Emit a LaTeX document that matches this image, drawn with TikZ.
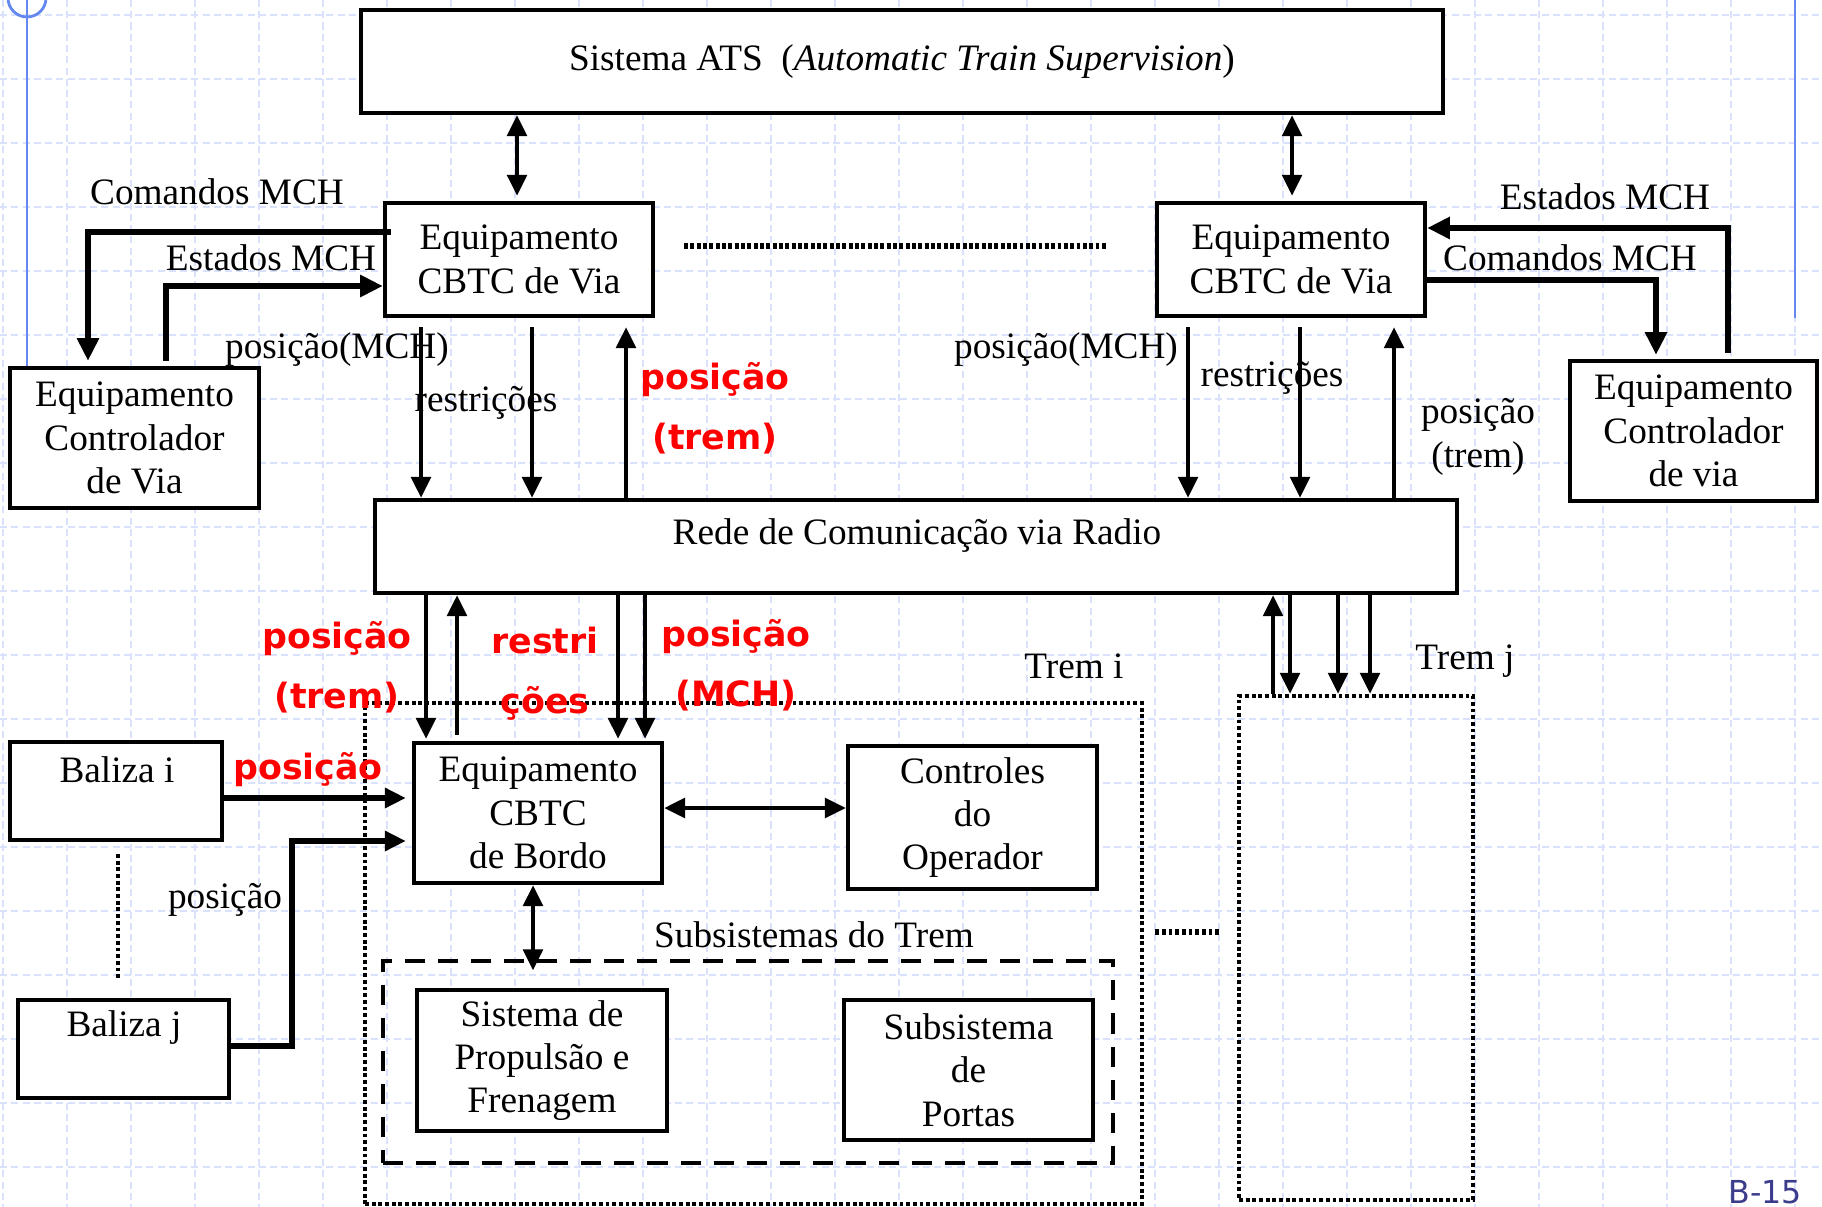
\documentclass[tikz,border=0pt]{standalone}
\usepackage{fontspec}
\setmainfont{Liberation Serif}
\newfontfamily\hotfont{DejaVu Sans}
\newfontfamily\pagefont{DejaVu Sans}
\usetikzlibrary{arrows.meta}
\definecolor{gridblue}{RGB}{218,225,252}
\definecolor{slideblue}{RGB}{100,135,240}
\definecolor{pagenum}{RGB}{60,60,140}
\definecolor{hot}{RGB}{255,0,0}

\begin{document}
\begin{tikzpicture}[x=0.01cm,y=-0.01cm,
  every node/.style={font=\fontsize{10.6}{12.3}\selectfont},
  % a rectangle given by its corners (left, top, right, bottom) in px
  span/.style n args={4}{minimum width={(#3-#1)*0.01cm}, minimum height={(#4-#2)*0.01cm},
    at={({(#1+#3)/2},{(#2+#4)/2})}, anchor=center},
  box/.style={draw, line width=1.2pt, fill=white, inner sep=0pt, align=center},
  dotbox/.style={draw, line width=1.2pt, dash pattern=on 1.1pt off 0.8pt, inner sep=0pt},
  dashbox/.style={draw, line width=1.4pt, dash pattern=on 5.7pt off 3.7pt, inner sep=0pt},
  lbl/.style={inner sep=0pt},
  hotlbl/.style={inner sep=0pt, text=hot, align=center,
    font=\hotfont\bfseries\fontsize{9.9}{17}\selectfont},
  arr/.style={line width=1.3pt, -{Triangle[length=6pt,width=5.5pt]}},
  darr/.style={line width=1.3pt, {Triangle[length=6pt,width=5.5pt]}-{Triangle[length=6pt,width=5.5pt]}},
  mch/.style={line width=1.7pt, -{Triangle[length=6.5pt,width=6pt]}},
  gridline/.style={gridblue, line width=0.5pt, dash pattern=on 2pt off 1.2pt}
]
\useasboundingbox (0,0) rectangle (1822,1207);

% slide background grid
\foreach \gx in {3,67,...,1822} \draw[gridline] (\gx,0) -- (\gx,1207);
\foreach \gy in {15,79,...,1207} \draw[gridline] (0,\gy) -- (1822,\gy);

% slide margin rules
\draw[slideblue, line width=0.8pt] (27,0) -- (27,368);
\draw[slideblue, line width=0.8pt] (27,-2) circle (19);
\draw[slideblue, line width=0.8pt] (1795,0) -- (1795,318);

% wayside equipment
\node[box, span={361}{10}{1443}{113}] (ats)
  {Sistema ATS\ \ (\textit{Automatic Train Supervision})};
\node[box, span={385}{203}{653}{316}] (cbtcL) {Equipamento\\CBTC de Via};
\node[box, span={1157}{203}{1425}{316}] (cbtcR) {Equipamento\\CBTC de Via};
\node[box, span={10}{368}{259}{508}] (ctlL) {Equipamento\\Controlador\\de Via};
\node[box, span={1570}{361}{1817}{501}] (ctlR) {Equipamento\\Controlador\\de via};

% radio network
\node[box, span={375}{500}{1457}{593}] (rede) {};
\node[lbl] (redeT) at (917,536) {Rede de Comunica\c{c}\~ao via Radio};

% trains
\node[dotbox, span={365}{703}{1142}{1204}] (tremI) {};
\node[dotbox, span={1239}{696}{1473}{1200}] (tremJ) {};
\node[dashbox, span={383}{961}{1113}{1163}] (subs) {};
\node[box, span={414}{743}{662}{883}] (bordo) {Equipamento\\CBTC\\de Bordo};
\node[box, span={848}{746}{1097}{889}] (oper) {Controles\\do\\Operador};
\node[box, span={417}{990}{667}{1131}] (prop) {Sistema de\\Propuls\~ao e\\Frenagem};
\node[box, span={844}{1000}{1093}{1140}] (portas) {Subsistema\\de\\Portas};

% balises
\node[box, span={10}{742}{222}{840}] (baliI) {};
\node[lbl] (baliIT) at (117,770) {Baliza i};
\node[box, span={18}{1000}{229}{1098}] (baliJ) {};
\node[lbl] (baliJT) at (124,1028) {Baliza j};

% ATS links
\draw[darr, shorten >=0.05cm] (517,0 |- ats.south) -- (517,0 |- cbtcL.north);
\draw[darr, shorten >=0.05cm] (1292,0 |- ats.south) -- (1292,0 |- cbtcR.north);
\draw[line width=1.7pt, dash pattern=on 1.1pt off 0.7pt]
  ([yshift=0.135cm]cbtcL.east) ++(0.29cm,0) -- ([yshift=0.135cm,xshift=-0.47cm]cbtcR.west);

% point machine commands and states, left
\draw[mch, shorten >=0.05cm] ([yshift=0.275cm,xshift=0.08cm]cbtcL.west) -| (88,0 |- ctlL.north);
\draw[mch, shorten <=0.05cm] (166,0 |- ctlL.north) |- ([yshift=-0.265cm]cbtcL.west);
\node[lbl] (cmdL) at (217,192) {Comandos MCH};
\node[lbl] (estL) at (271,258) {Estados MCH};

% point machine commands and states, right
\draw[mch, shorten <=0.06cm] (1728,0 |- ctlR.north) |- ([yshift=0.315cm]cbtcR.east);
\draw[mch, shorten >=0.04cm] ([yshift=-0.205cm]cbtcR.east) -| (1656,0 |- ctlR.north);
\node[lbl] (estR) at (1605,197) {Estados MCH};
\node[lbl] (cmdR) at (1570,258) {Comandos MCH};

% wayside CBTC <-> radio network
\draw[arr, shorten <=0.09cm] (421,0 |- cbtcL.south) -- (421,0 |- rede.north);
\draw[arr, shorten <=0.09cm] (532,0 |- cbtcL.south) -- (532,0 |- rede.north);
\draw[arr, shorten >=0.09cm] (626,0 |- rede.north) -- (626,0 |- cbtcL.south);
\draw[arr, shorten <=0.09cm] (1188,0 |- cbtcR.south) -- (1188,0 |- rede.north);
\draw[arr, shorten <=0.09cm] (1300,0 |- cbtcR.south) -- (1300,0 |- rede.north);
\draw[arr, shorten >=0.09cm] (1394,0 |- rede.north) -- (1394,0 |- cbtcR.south);
\node[lbl] (posL) at (337,350) {posi\c{c}\~ao(MCH)};
\node[lbl] (resL) at (486,403) {restri\c{c}\~oes};
\node[hotlbl] (trmL) at (715,408) {posi\c{c}\~ao\\(trem)};
\node[lbl] (posR) at (1066,350) {posi\c{c}\~ao(MCH)};
\node[lbl] (resR) at (1272,378) {restri\c{c}\~oes};
\node[lbl, align=center] (trmR) at (1478,437) {posi\c{c}\~ao\\(trem)};

% radio network <-> train i
\draw[arr, shorten >=0.02cm] (426,0 |- rede.south) -- (426,0 |- bordo.north);
\draw[arr, shorten <=0.06cm] (457,0 |- bordo.north) -- (457,0 |- rede.south);
\draw[arr, shorten >=0.02cm] (618,0 |- rede.south) -- (618,0 |- bordo.north);
\draw[arr, shorten >=0.02cm] (645,0 |- rede.south) -- (645,0 |- bordo.north);
\node[hotlbl] (trmB) at (337,667) {posi\c{c}\~ao\\(trem)};
\node[hotlbl] (resB) at (545,674) {restri\\\c{c}\~oes};
\node[hotlbl] (mchB) at (736,665) {posi\c{c}\~ao\\(MCH)};
\node[lbl] (tremIT) at (1074,666) {Trem i};

% radio network <-> train j
\draw[arr] (1273,0 |- tremJ.north) -- (1273,0 |- rede.south);
\draw[arr] (1290,0 |- rede.south) -- (1290,0 |- tremJ.north);
\draw[arr] (1338,0 |- rede.south) -- (1338,0 |- tremJ.north);
\draw[arr] (1370,0 |- rede.south) -- (1370,0 |- tremJ.north);
\node[lbl] (tremJT) at (1465,661) {Trem j};
\draw[line width=1.6pt, dash pattern=on 1.1pt off 0.8pt]
  ([xshift=0.11cm]tremI.east |- 0,932) -- ([xshift=-0.16cm]tremJ.west |- 0,932);

% balises -> onboard CBTC
\draw[arr, line width=1.5pt, shorten >=0.06cm] (baliI.east |- 0,798) -- (bordo.west |- 0,798);
\draw[arr, line width=1.5pt, shorten >=0.06cm] (baliJ.east |- 0,1046) -| (292,841) -- (bordo.west |- 0,841);
\draw[line width=1.4pt, dash pattern=on 1.1pt off 0.8pt] (118,854) -- (118,980);
\node[hotlbl] (posBal) at (308,770) {posi\c{c}\~ao};
\node[lbl] (posBalJ) at (225,900) {posi\c{c}\~ao};

% onboard links
\draw[darr] (bordo.east |- 0,808) -- (oper.west |- 0,808);
\draw[darr, shorten >=-0.12cm] (533,0 |- bordo.south) -- (533,0 |- subs.north);
\node[lbl] (subsT) at (814,935) {Subsistemas do Trem};

% page number
\node[anchor=base, inner sep=0pt, text=pagenum, font=\pagefont\fontsize{9}{10}\selectfont]
  (pg) at (1765,1203) {B-15};
\end{tikzpicture}
\end{document}
